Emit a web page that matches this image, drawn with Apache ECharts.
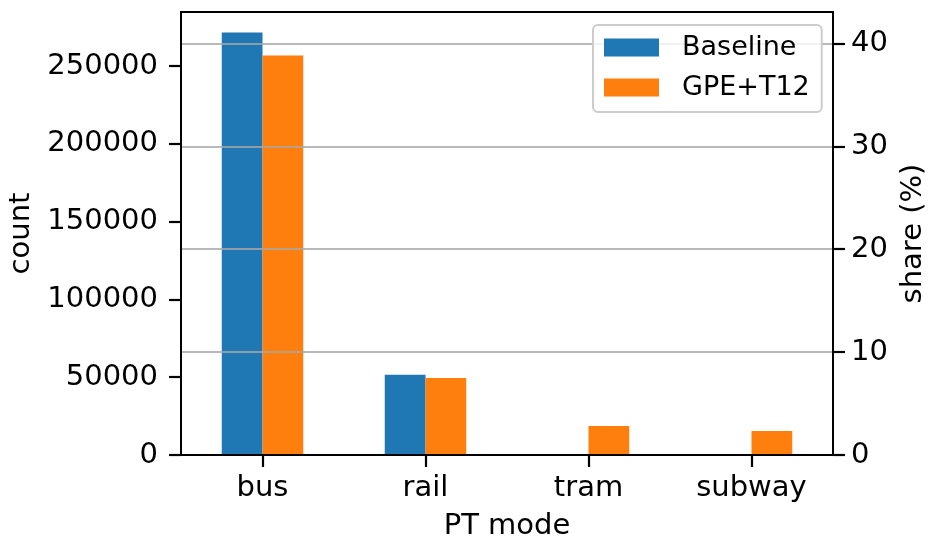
<!DOCTYPE html>
<html>
<head>
<meta charset="utf-8">
<script src="https://cdn.jsdelivr.net/npm/echarts@6/dist/echarts.min.js"></script>
<style>
html,body{margin:0;padding:0;background:#fff;}
#chart{width:931px;height:542px;}
</style>
</head>
<body>
<div id="chart"></div>
<script>
const categories = ['bus', 'rail', 'tram', 'subway'];
const seriesNames = ['Baseline', 'GPE+T12'];
const baselineCounts = [271600, 51500, 0, 0];
const gpeCounts = [256800, 49500, 18700, 15400];
const countTicks = [0, 50000, 100000, 150000, 200000, 250000];
const shareTicks = [0, 10, 20, 30, 40];
const countMax = 284700;
const shareMax = 43.05;

const FONT = 'DejaVu Sans';
const FS = 29;

const chart = echarts.init(document.getElementById('chart'), null, {renderer: 'canvas'});
chart.setOption({
  animation: false,
  textStyle: {fontFamily: FONT, color: '#000'},
  grid: {left: 181, right: 98, top: 12, bottom: 87, show: true, borderColor: '#000', borderWidth: 2, z: 5, backgroundColor: 'transparent', containLabel: false, outerBoundsMode: 'none'},
  legend: {
    data: seriesNames,
    left: 593, top: 25,
    orient: 'vertical',
    itemWidth: 55, itemHeight: 18, itemGap: 13,
    padding: [9, 12, 11, 11],
    borderColor: '#cccccc', borderWidth: 2, borderRadius: 5,
    backgroundColor: 'rgba(255,255,255,0.8)',
    icon: 'rect',
    z: 10,
    textStyle: {fontFamily: FONT, fontSize: 27, color: '#000', lineHeight: 27, padding: [0, 0, 0, 18]}
  },
  xAxis: {
    type: 'category',
    data: categories,
    name: 'PT mode',
    nameLocation: 'middle',
    nameGap: 57,
    nameTextStyle: {fontFamily: FONT, fontSize: FS, color: '#000'},
    axisLine: {show: true, lineStyle: {color: '#000', width: 2}},
    axisTick: {show: true, alignWithLabel: true, length: 12, lineStyle: {color: '#000', width: 2.2}},
    axisLabel: {fontFamily: FONT, fontSize: FS, color: '#000', margin: 19},
    splitLine: {show: false}
  },
  yAxis: [
    {
      type: 'value',
      min: 0, max: countMax, interval: 50000,
      name: 'count',
      nameLocation: 'middle',
      nameRotate: 90,
      nameGap: 144,
      nameTextStyle: {fontFamily: FONT, fontSize: FS, color: '#000'},
      axisLine: {show: true, lineStyle: {color: '#000', width: 2}},
      axisTick: {show: true, length: 12, lineStyle: {color: '#000', width: 2.2}, customValues: countTicks},
      axisLabel: {fontFamily: FONT, fontSize: FS, color: '#000', margin: 23, customValues: countTicks, formatter: v => String(v)},
      splitLine: {show: false}
    },
    {
      type: 'value',
      position: 'right',
      min: 0, max: shareMax, interval: 10,
      name: 'share (%)',
      nameLocation: 'middle',
      nameRotate: 90,
      nameGap: 64,
      nameTextStyle: {fontFamily: FONT, fontSize: FS, color: '#000'},
      z: 3,
      axisLine: {show: true, lineStyle: {color: '#000', width: 2}},
      axisTick: {show: true, length: 12, lineStyle: {color: '#000', width: 2.2}, customValues: shareTicks},
      axisLabel: {fontFamily: FONT, fontSize: FS, color: '#000', margin: 18, customValues: shareTicks, formatter: v => String(v)},
      splitLine: {show: true, lineStyle: {color: '#a8a8a8', width: 2, opacity: 0.8}}
    }
  ],
  series: [
    {name: seriesNames[0], type: 'bar', yAxisIndex: 0, data: baselineCounts, barWidth: '25%', barGap: '0%', itemStyle: {color: '#1f77b4'}, z: 2},
    {name: seriesNames[1], type: 'bar', yAxisIndex: 0, data: gpeCounts, barWidth: '25%', barGap: '0%', itemStyle: {color: '#ff7f0e'}, z: 2}
  ]
});
</script>
</body>
</html>
